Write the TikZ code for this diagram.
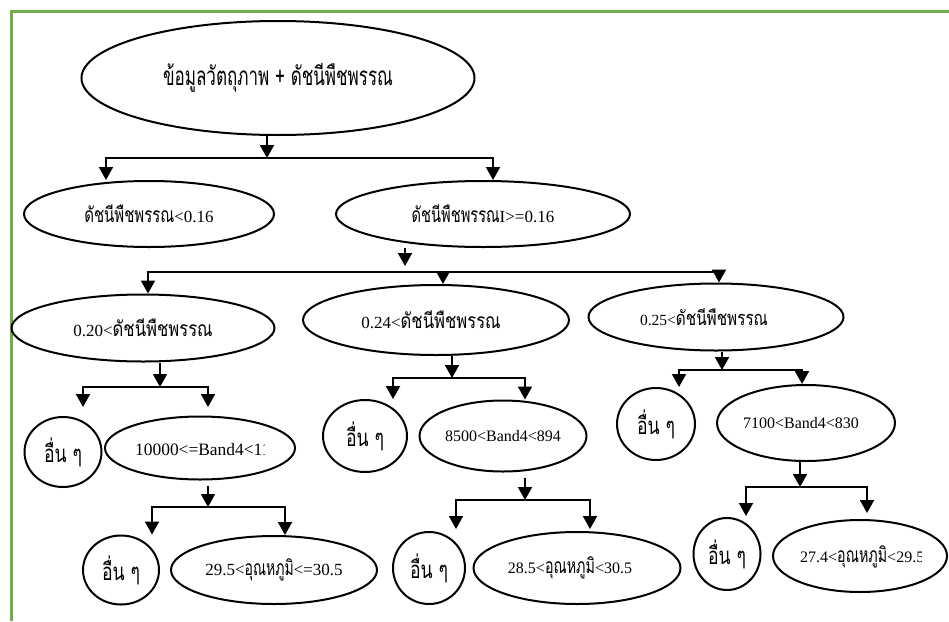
\documentclass[tikz,border=0pt]{standalone}
\usepackage{graphicx}
\usepackage{fontspec}
\setmainfont{Liberation Serif}
\newfontfamily\thaifont[Script=Thai]{Loma}
% Thai text set at size #1 and squeezed to width #2
\newcommand\thW[3]{\resizebox{#2}{\height}{\thaifont\fontsize{#1}{#1}\selectfont #3}}
\usetikzlibrary{shapes.geometric,arrows.meta}
\definecolor{framegreen}{RGB}{112,173,71}
\tikzset{
  ell/.style={ellipse, draw, line width=2pt, inner sep=0pt, font=\fontsize{17}{19}\selectfont},
  arr/.style={line width=2pt, -{Triangle[width=14pt,length=13pt]}, line join=miter},
  plain/.style={inner sep=0pt},
}
\newcommand\other{\thW{24}{38pt}{อื่น ๆ}}
\begin{document}
\begin{tikzpicture}[x=1pt,y=-1pt]
\useasboundingbox (0,0) rectangle (949,621);
% frame
\draw[framegreen, line width=3pt] (11,621) -- (11,11) -- (949,11);

% nodes
\node[ell, minimum width=393, minimum height=114] (root) at (278,78) {\thW{26}{230pt}{ข้อมูลวัตถุภาพ + ดัชนีพืชพรรณ}};

\node[ell, minimum width=250, minimum height=66] (a) at (149,214) {\thW{21}{90pt}{ดัชนีพืชพรรณ}<0.16};
\node[ell, minimum width=294, minimum height=66] (b) at (483,214) {\thW{21}{88pt}{ดัชนีพืชพรรณ}I>=0.16};

\node[ell, minimum width=263, minimum height=67] (c1) at (143,328) {0.20<\thW{21}{100pt}{ดัชนีพืชพรรณ}};
\node[ell, minimum width=266, minimum height=70] (c2) at (436,320) {0.24<\thW{21}{100pt}{ดัชนีพืชพรรณ}\hspace*{10pt}};
\node[ell, minimum width=255, minimum height=67, font=\fontsize{15.5}{17}\selectfont] (c3) at (716,317) {0.25<\thW{20}{92pt}{ดัชนีพืชพรรณ}\hspace*{24pt}};

\node[ell, minimum width=77, minimum height=70] (d1o) at (63,452) {\other};
\node[ell, minimum width=190, minimum height=63] (d1) at (200,448) {};
\begin{scope}
  \clip (105,420) rectangle (264,478);
  \node[plain, anchor=west, font=\fontsize{17.4}{19}\selectfont] (d1t) at (135,450) {10000<=Band4<11};
\end{scope}
\node[ell, minimum width=84, minimum height=72] (d2o) at (365,436) {\other};
\node[ell, minimum width=167, minimum height=71, font=\fontsize{16}{18}\selectfont] (d2) at (503,436) {8500<Band4<894};
\node[ell, minimum width=78, minimum height=72] (d3o) at (656,424) {\other};
\node[ell, minimum width=177, minimum height=76, font=\fontsize{16}{18}\selectfont] (d3) at (806,423) {7100<Band4<830\hspace*{10pt}};

\node[ell, minimum width=76, minimum height=69] (e1o) at (121,570) {\other};
\node[ell, minimum width=206, minimum height=68] (e1) at (274,570) {29.5<\thW{21}{49pt}{อุณหภูมิ}<=30.5};
\node[ell, minimum width=72, minimum height=72] (e2o) at (429,568) {\other};
\node[ell, minimum width=207, minimum height=72, font=\fontsize{16}{18}\selectfont] (e2) at (577,568) {28.5<\thW{21}{50pt}{อุณหภูมิ}<30.5\hspace*{14pt}};
\node[ell, minimum width=67, minimum height=72] (e3o) at (727,554) {\other};
\node[ell, minimum width=174, minimum height=72] (e3) at (860,556) {};
\begin{scope}
  \clip (775,525) rectangle (921,590);
  \node[plain, anchor=west, font=\fontsize{16}{18}\selectfont] (e3t) at (800,557) {27.4<\thW{21}{50pt}{อุณหภูมิ}<29.5};
\end{scope}

% junction coordinates
\coordinate (j1) at (267,158);
\coordinate (j1L) at (106,158);
\coordinate (j1R) at (493,158);

\coordinate (j2) at (405,272);
\coordinate (j2L) at (148,272);
\coordinate (j2M) at (443,272);
\coordinate (j2R) at (719,272);

\coordinate (j3) at (160,387);
\coordinate (j3L) at (83,387);
\coordinate (j3R) at (208,387);
\coordinate (t3L) at (83,407);
\coordinate (t3R) at (208,407);

\coordinate (j4) at (452,378);
\coordinate (j4L) at (393,378);
\coordinate (j4R) at (525,378);

\coordinate (j5) at (722,370);
\coordinate (j5L) at (679,370);
\coordinate (j5R) at (802,370);

\coordinate (j6) at (208,507);
\coordinate (j6L) at (152,507);
\coordinate (j6R) at (285,507);

\coordinate (j7) at (525,500);
\coordinate (j7L) at (456,500);
\coordinate (j7R) at (590,500);
\coordinate (t7L) at (456,529);
\coordinate (t7R) at (590,529);

\coordinate (j8) at (800,487);
\coordinate (j8L) at (746,487);
\coordinate (j8R) at (867,487);
\coordinate (t8L) at (746,516);
\coordinate (t8R) at (867,513);

% connectors
\draw[arr] (root.south -| j1) -- (j1);
\draw[arr] (j1) -- (j1L) -- (j1L |- a.north);
\draw[arr] (j1) -- (j1R) -- (j1R |- b.north);

\draw[arr, shorten >=6pt] (b.south -| j2) -- (j2);
\draw[line width=2pt, line join=miter] (j2L |- c1.north) ++(0,-21) -- (j2L) -- (j2R);
\draw[arr] (j2L) -- (j2L |- c1.north);
\draw[arr] (j2M) -- (j2M |- c2.north);
\draw[arr] (j2R) -- (j2R |- c3.north);

\draw[arr] (c1.south -| j3) -- (j3);
\draw[arr] (j3) -- (j3L) -- (t3L);
\draw[arr] (j3) -- (j3R) -- (t3R);

\draw[arr] (c2.south -| j4) -- (j4);
\draw[arr] (j4) -- (j4L) -- (j4L |- d2o.north);
\draw[arr] (j4) -- (j4R) -- (j4R |- d2.north);

\draw[arr] (c3.south -| j5) -- (j5);
\draw[arr] (j5) -- (j5L) -- (j5L |- d3o.north);
\draw[arr] (j5) -- (j5R) -- (j5R |- d3.north);

\draw[arr, shorten <=5pt] (d1.south -| j6) -- (j6);
\draw[arr] (j6) -- (j6L) -- (j6L |- e1o.north);
\draw[arr] (j6) -- (j6R) -- (j6R |- e1.north);

\draw[arr, shorten <=5pt] (d2.south -| j7) -- (j7);
\draw[arr] (j7) -- (j7L) -- (t7L);
\draw[arr] (j7) -- (j7R) -- (t7R);

\draw[arr] (d3.south -| j8) -- (j8);
\draw[arr] (j8) -- (j8L) -- (t8L);
\draw[arr] (j8) -- (j8R) -- (t8R);
\end{tikzpicture}
\end{document}
